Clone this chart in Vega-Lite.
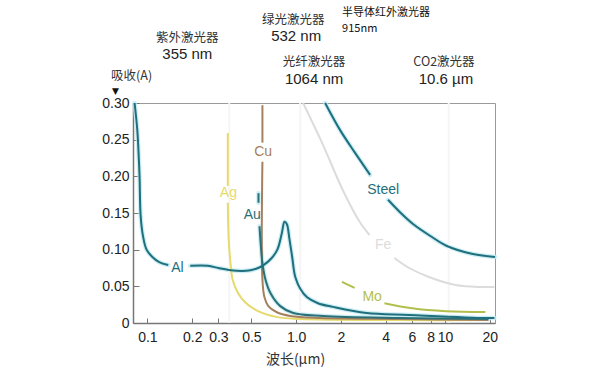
{
  "$schema": "https://vega.github.io/schema/vega-lite/v6.json",
  "width": 362,
  "height": 220,
  "autosize": {"type": "none"},
  "padding": {"left": 133, "top": 103, "right": 105, "bottom": 50},
  "background": "white",
  "config": {
    "view": {"stroke": "#9a9a9a", "strokeWidth": 1},
    "font": "Liberation Sans",
    "axisX": {
      "labelFontSize": 14, "labelColor": "#222222", "labelFlush": false, "labelOverlap": false,
      "labelPadding": 12, "tickSize": -5, "tickColor": "#777777", "domainColor": "#777777",
      "domainWidth": 1.5, "grid": false
    },
    "axisY": {
      "labelFontSize": 14, "labelColor": "#222222", "labelFlush": false, "labelOverlap": false,
      "labelPadding": 10, "tickSize": -6, "tickColor": "#777777", "domainColor": "#777777",
      "domainWidth": 1.5, "grid": false
    }
  },
  "datasets": {
    "curves": [
      {"s":"Fe","k":"Fe1","i":0,"w":1.113,"a":0.300},
      {"s":"Fe","k":"Fe1","i":1,"w":1.514,"a":0.243},
      {"s":"Fe","k":"Fe1","i":2,"w":2.06,"a":0.181},
      {"s":"Fe","k":"Fe1","i":3,"w":2.67,"a":0.138},
      {"s":"Fe","k":"Fe1","i":4,"w":3.11,"a":0.120},
      {"s":"Fe","k":"Fe2","i":0,"w":4.57,"a":0.0887},
      {"s":"Fe","k":"Fe2","i":1,"w":5.75,"a":0.075},
      {"s":"Fe","k":"Fe2","i":2,"w":7.8,"a":0.0628},
      {"s":"Fe","k":"Fe2","i":3,"w":11.8,"a":0.0518},
      {"s":"Fe","k":"Fe2","i":4,"w":17.6,"a":0.0491},
      {"s":"Fe","k":"Fe2","i":5,"w":21.5,"a":0.0491},

      {"s":"Ag","k":"Ag1","i":0,"w":0.347,"a":0.259},
      {"s":"Ag","k":"Ag1","i":1,"w":0.347,"a":0.187},
      {"s":"Ag","k":"Ag2","i":0,"w":0.347,"a":0.164},
      {"s":"Ag","k":"Ag2","i":1,"w":0.352,"a":0.113},
      {"s":"Ag","k":"Ag2","i":2,"w":0.363,"a":0.079},
      {"s":"Ag","k":"Ag2","i":3,"w":0.374,"a":0.059},
      {"s":"Ag","k":"Ag2","i":4,"w":0.404,"a":0.042},
      {"s":"Ag","k":"Ag2","i":5,"w":0.45,"a":0.029},
      {"s":"Ag","k":"Ag2","i":6,"w":0.533,"a":0.018},
      {"s":"Ag","k":"Ag2","i":7,"w":0.747,"a":0.008},
      {"s":"Ag","k":"Ag2","i":8,"w":1.06,"a":0.0055},
      {"s":"Ag","k":"Ag2","i":9,"w":4.94,"a":0.004},
      {"s":"Ag","k":"Ag2","i":10,"w":19,"a":0.004},

      {"s":"Mo","k":"Mo1","i":0,"w":2.03,"a":0.056},
      {"s":"Mo","k":"Mo1","i":1,"w":2.47,"a":0.048},
      {"s":"Mo","k":"Mo2","i":0,"w":3.92,"a":0.027},
      {"s":"Mo","k":"Mo2","i":1,"w":6.02,"a":0.020},
      {"s":"Mo","k":"Mo2","i":2,"w":10.15,"a":0.016},
      {"s":"Mo","k":"Mo2","i":3,"w":18.7,"a":0.015},

      {"s":"Cu","k":"Cu1","i":0,"w":0.593,"a":0.297},
      {"s":"Cu","k":"Cu1","i":1,"w":0.593,"a":0.246},
      {"s":"Cu","k":"Cu2","i":0,"w":0.593,"a":0.220},
      {"s":"Cu","k":"Cu2","i":1,"w":0.593,"a":0.059},
      {"s":"Cu","k":"Cu2","i":2,"w":0.612,"a":0.035},
      {"s":"Cu","k":"Cu2","i":3,"w":0.65,"a":0.023},
      {"s":"Cu","k":"Cu2","i":4,"w":0.736,"a":0.015},
      {"s":"Cu","k":"Cu2","i":5,"w":0.912,"a":0.0095},
      {"s":"Cu","k":"Cu2","i":6,"w":1.445,"a":0.0068},
      {"s":"Cu","k":"Cu2","i":7,"w":4.94,"a":0.0055},
      {"s":"Cu","k":"Cu2","i":8,"w":19.6,"a":0.004},

      {"s":"Au","k":"Au1","i":0,"w":0.558,"a":0.177},
      {"s":"Au","k":"Au1","i":1,"w":0.558,"a":0.164},
      {"s":"Au","k":"Au2","i":0,"w":0.567,"a":0.132},
      {"s":"Au","k":"Au2","i":1,"w":0.575,"a":0.113},
      {"s":"Au","k":"Au2","i":2,"w":0.593,"a":0.082},
      {"s":"Au","k":"Au2","i":3,"w":0.622,"a":0.059},
      {"s":"Au","k":"Au2","i":4,"w":0.671,"a":0.041},
      {"s":"Au","k":"Au2","i":5,"w":0.782,"a":0.023},
      {"s":"Au","k":"Au2","i":6,"w":0.955,"a":0.0136},
      {"s":"Au","k":"Au2","i":7,"w":1.514,"a":0.0095},
      {"s":"Au","k":"Au2","i":8,"w":4.94,"a":0.0068},
      {"s":"Au","k":"Au2","i":9,"w":19.6,"a":0.0055},

      {"s":"Al","k":"Al1","i":0,"w":0.082,"a":0.300},
      {"s":"Al","k":"Al1","i":1,"w":0.0855,"a":0.263},
      {"s":"Al","k":"Al1","i":2,"w":0.0875,"a":0.225},
      {"s":"Al","k":"Al1","i":3,"w":0.0886,"a":0.198},
      {"s":"Al","k":"Al1","i":4,"w":0.090,"a":0.147},
      {"s":"Al","k":"Al1","i":5,"w":0.0935,"a":0.118},
      {"s":"Al","k":"Al1","i":6,"w":0.0987,"a":0.100},
      {"s":"Al","k":"Al1","i":7,"w":0.108,"a":0.090},
      {"s":"Al","k":"Al1","i":8,"w":0.120,"a":0.083},
      {"s":"Al","k":"Al1","i":9,"w":0.138,"a":0.079},
      {"s":"Al","k":"Al2","i":0,"w":0.194,"a":0.078},
      {"s":"Al","k":"Al2","i":1,"w":0.255,"a":0.078},
      {"s":"Al","k":"Al2","i":2,"w":0.300,"a":0.075},
      {"s":"Al","k":"Al2","i":3,"w":0.363,"a":0.072},
      {"s":"Al","k":"Al2","i":4,"w":0.430,"a":0.071},
      {"s":"Al","k":"Al2","i":5,"w":0.494,"a":0.072},
      {"s":"Al","k":"Al2","i":6,"w":0.555,"a":0.075},
      {"s":"Al","k":"Al2","i":7,"w":0.603,"a":0.079},
      {"s":"Al","k":"Al2","i":8,"w":0.680,"a":0.088},
      {"s":"Al","k":"Al2","i":9,"w":0.747,"a":0.100},
      {"s":"Al","k":"Al2","i":10,"w":0.800,"a":0.122},
      {"s":"Al","k":"Al2","i":11,"w":0.835,"a":0.138},
      {"s":"Al","k":"Al2","i":12,"w":0.865,"a":0.135},
      {"s":"Al","k":"Al2","i":13,"w":0.900,"a":0.115},
      {"s":"Al","k":"Al2","i":14,"w":0.940,"a":0.090},
      {"s":"Al","k":"Al2","i":15,"w":0.985,"a":0.063},
      {"s":"Al","k":"Al2","i":16,"w":1.07,"a":0.046},
      {"s":"Al","k":"Al2","i":17,"w":1.184,"a":0.035},
      {"s":"Al","k":"Al2","i":18,"w":1.40,"a":0.027},
      {"s":"Al","k":"Al2","i":19,"w":1.765,"a":0.022},
      {"s":"Al","k":"Al2","i":20,"w":2.97,"a":0.0136},
      {"s":"Al","k":"Al2","i":21,"w":5.75,"a":0.011},
      {"s":"Al","k":"Al2","i":22,"w":18.7,"a":0.0068},
      {"s":"Al","k":"Al2","i":23,"w":21.5,"a":0.0068},

      {"s":"Steel","k":"St1","i":0,"w":1.565,"a":0.300},
      {"s":"Steel","k":"St1","i":1,"w":1.974,"a":0.263},
      {"s":"Steel","k":"St1","i":2,"w":2.489,"a":0.232},
      {"s":"Steel","k":"St1","i":3,"w":3.139,"a":0.202},
      {"s":"Steel","k":"St2","i":0,"w":4.144,"a":0.168},
      {"s":"Steel","k":"St2","i":1,"w":4.99,"a":0.151},
      {"s":"Steel","k":"St2","i":2,"w":6.10,"a":0.135},
      {"s":"Steel","k":"St2","i":3,"w":7.93,"a":0.119},
      {"s":"Steel","k":"St2","i":4,"w":10.31,"a":0.105},
      {"s":"Steel","k":"St2","i":5,"w":15.42,"a":0.094},
      {"s":"Steel","k":"St2","i":6,"w":21.7,"a":0.090}
    ],
    "curveLabels": [
      {"s":"Al","t":"Al","w":0.159,"a":0.075},
      {"s":"Ag","t":"Ag","w":0.35,"a":0.177},
      {"s":"Cu","t":"Cu","w":0.60,"a":0.233},
      {"s":"Au","t":"Au","w":0.507,"a":0.147},
      {"s":"Steel","t":"Steel","w":3.84,"a":0.181},
      {"s":"Fe","t":"Fe","w":3.84,"a":0.106},
      {"s":"Mo","t":"Mo","w":3.24,"a":0.0355}
    ],
    "lasers": [
      {"w":0.355},{"w":1.064},{"w":10.6}
    ],
    "cnLabels": [
      {"t":"紫外激光器","w":0.1855,"a":0.389},
      {"t":"绿光激光器","w":0.955,"a":0.413},
      {"t":"光纤激光器","w":1.32,"a":0.356},
      {"t":"CO2激光器","w":9.85,"a":0.356},
      {"t":"吸收(A)","w":0.0783,"a":0.337}
    ],
    "numLabels": [
      {"t":"355 nm","w":0.1855,"a":0.367},
      {"t":"532 nm","w":1.0,"a":0.3915},
      {"t":"1064 nm","w":1.32,"a":0.333},
      {"t":"10.6 µm","w":10.16,"a":0.333}
    ],
    "smallLabels": [
      {"t":"半导体红外激光器","w":2.036,"a":0.4225},
      {"t":"915nm","w":2.036,"a":0.401}
    ],
    "marker": [
      {"t":"▼","w":0.0609,"a":0.3165}
    ]
  },
  "layer": [
    {
      "data": {"name": "curves"},
      "transform": [{"filter": "datum.s === 'Al' || datum.s === 'Steel' || datum.s === 'Au'"}],
      "mark": {"type": "line", "interpolate": "catmull-rom", "strokeWidth": 4.5, "color": "#bfeaf2", "opacity": 0.8, "strokeCap": "round"},
      "encoding": {
        "x": {
          "field": "w", "type": "quantitative",
          "scale": {"type": "log", "domain": [0.08, 21.7], "nice": false, "zero": false},
          "axis": {
            "values": [0.1, 0.2, 0.3, 0.5, 1, 2, 4, 6, 8, 10, 20],
            "tickCount": 30,
            "labelExpr": "datum.value == 1 ? '1.0' : format(datum.value, '')",
            "title": "波长(µm)",
            "titleFont": "Noto Sans CJK SC",
            "titleFontSize": 14,
            "titleFontWeight": "normal",
            "titleColor": "#333333",
            "titleX": 162,
            "titlePadding": 8
          }
        },
        "y": {
          "field": "a", "type": "quantitative",
          "scale": {"domain": [0, 0.3], "nice": false},
          "axis": {
            "values": [0, 0.05, 0.1, 0.15, 0.2, 0.25, 0.3],
            "tickCount": 30,
            "labelExpr": "datum.value == 0 ? '0' : format(datum.value, '.2f')",
            "title": null
          }
        },
        "detail": {"field": "k"},
        "order": {"field": "i"}
      }
    },
    {
      "data": {"name": "lasers"},
      "mark": {"type": "rule", "color": "#f5f5f5", "strokeWidth": 2},
      "encoding": {
        "x": {"field": "w", "type": "quantitative"}
      }
    },
    {
      "data": {"name": "curves"},
      "mark": {"type": "line", "interpolate": "catmull-rom", "strokeWidth": 2},
      "encoding": {
        "x": {"field": "w", "type": "quantitative"},
        "y": {"field": "a", "type": "quantitative"},
        "color": {
          "field": "s", "type": "nominal", "legend": null,
          "scale": {
            "domain": ["Fe", "Ag", "Mo", "Cu", "Au", "Al", "Steel"],
            "range": ["#dcdcdc", "#e6da6c", "#b2bf4c", "#a5805f", "#2c7077", "#1f6f7c", "#1f6f7c"]
          }
        },
        "detail": {"field": "k"},
        "order": {"field": "i"}
      }
    },
    {
      "data": {"name": "curveLabels"},
      "mark": {"type": "text", "fontSize": 14, "align": "center", "baseline": "middle"},
      "encoding": {
        "x": {"field": "w", "type": "quantitative"},
        "y": {"field": "a", "type": "quantitative"},
        "text": {"field": "t"},
        "color": {
          "field": "s", "type": "nominal", "legend": null,
          "scale": {
            "domain": ["Fe", "Ag", "Mo", "Cu", "Au", "Al", "Steel"],
            "range": ["#c8c8c8", "#ddd060", "#4f9870", "#8f6a4c", "#2a90a8", "#3a8292", "#3a7a8c"]
          }
        }
      }
    },
    {
      "data": {"name": "cnLabels"},
      "mark": {"type": "text", "fontSize": 12.5, "font": "Noto Sans CJK SC", "align": "center", "baseline": "middle", "color": "#333333"},
      "encoding": {
        "x": {"field": "w", "type": "quantitative"},
        "y": {"field": "a", "type": "quantitative"},
        "text": {"field": "t"}
      }
    },
    {
      "data": {"name": "numLabels"},
      "mark": {"type": "text", "fontSize": 15, "align": "center", "baseline": "middle", "color": "#222222"},
      "encoding": {
        "x": {"field": "w", "type": "quantitative"},
        "y": {"field": "a", "type": "quantitative"},
        "text": {"field": "t"}
      }
    },
    {
      "data": {"name": "smallLabels"},
      "mark": {"type": "text", "fontSize": 11, "font": "Noto Sans CJK SC", "align": "left", "baseline": "middle", "color": "#111111"},
      "encoding": {
        "x": {"field": "w", "type": "quantitative"},
        "y": {"field": "a", "type": "quantitative"},
        "text": {"field": "t"}
      }
    },
    {
      "data": {"name": "marker"},
      "mark": {"type": "text", "fontSize": 9, "font": "DejaVu Sans", "align": "center", "baseline": "middle", "color": "#111111"},
      "encoding": {
        "x": {"field": "w", "type": "quantitative"},
        "y": {"field": "a", "type": "quantitative"},
        "text": {"field": "t"}
      }
    }
  ]
}
